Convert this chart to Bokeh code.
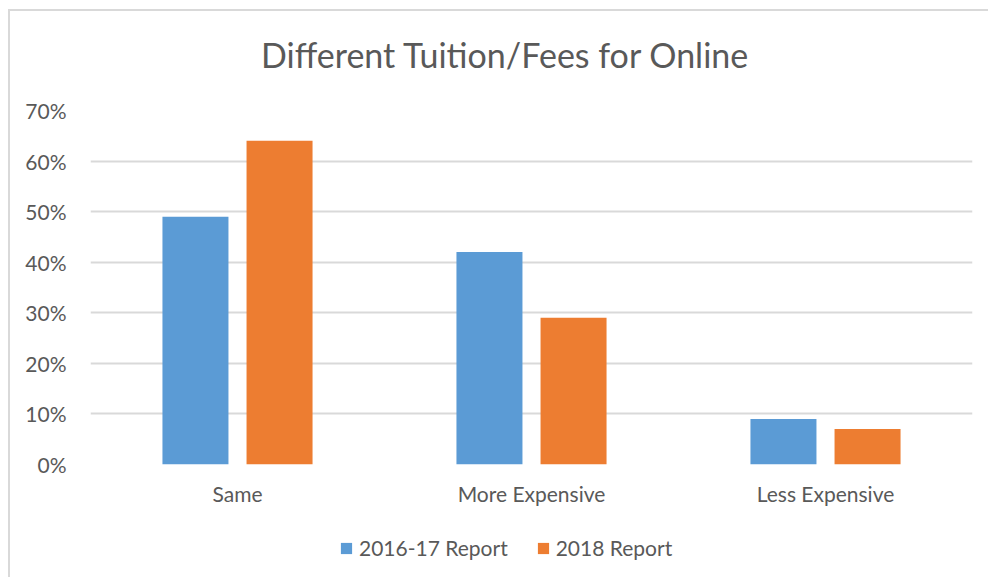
from bokeh.plotting import figure
from bokeh.layouts import column
from bokeh.models import (FactorRange, Range1d, FixedTicker, NumeralTickFormatter,
                          Legend, LegendItem, Label)
from bokeh.transform import dodge
from bokeh.embed import file_html
from bokeh.resources import INLINE

categories = ["Same", "More Expensive", "Less Expensive"]
series_names = ["2016-17 Report", "2018 Report"]
report_2016_17 = [0.49, 0.42, 0.09]
report_2018 = [0.64, 0.29, 0.07]
y_ticks = [0.0, 0.1, 0.2, 0.3, 0.4, 0.5, 0.6, 0.7]
title_text = "Different Tuition/Fees for Online"

BLUE = "#5B9BD5"
ORANGE = "#ED7D31"
TEXT = "#595959"
GRID = "#D9D9D9"
FONT = "Lato"
W = 978

data = dict(cat=categories, a=report_2016_17, b=report_2018)


def bare(height):
    f = figure(width=W, height=height, output_backend="svg", toolbar_location=None,
               x_axis_type=None, y_axis_type=None,
               x_range=FactorRange(*categories), y_range=Range1d(0, 0.7),
               min_border_left=0, min_border_right=0, min_border_top=0,
               min_border_bottom=0)
    f.outline_line_color = None
    f.grid.visible = False
    return f


# title strip
tf = bare(84)
tf.add_layout(Label(x=415, y=41, x_units="screen", y_units="screen",
                    text=title_text, text_align="center",
                    text_baseline="alphabetic", text_font=FONT,
                    text_font_size="34px", text_color=TEXT))

# main chart
p = figure(x_range=FactorRange(*categories), y_range=Range1d(0, 0.7),
           width=W, height=414, output_backend="svg", toolbar_location=None,
           min_border_left=80, min_border_right=16, min_border_top=15,
           min_border_bottom=45)
p.vbar(x=dodge("cat", -0.143, range=p.x_range), top="a", width=0.2245,
       source=data, color=BLUE, line_color=None)
p.vbar(x=dodge("cat", 0.143, range=p.x_range), top="b", width=0.2245,
       source=data, color=ORANGE, line_color=None)

p.outline_line_color = None
p.xgrid.grid_line_color = None
p.ygrid.grid_line_color = GRID
p.ygrid.grid_line_width = 2
p.yaxis.ticker = FixedTicker(ticks=y_ticks)
p.yaxis.formatter = NumeralTickFormatter(format="0%")
for ax in (p.xaxis[0], p.yaxis[0]):
    ax.axis_line_color = None
    ax.major_tick_line_color = None
    ax.minor_tick_line_color = None
    ax.major_label_text_font = FONT
    ax.major_label_text_font_size = "21px"
    ax.major_label_text_color = TEXT
p.yaxis.major_label_standoff = 18
p.xaxis.major_label_standoff = 10

# legend strip
lf = bare(68)
l1 = lf.vbar(x="cat", top="a", width=0.2245, source=data, color=BLUE,
             line_color=None, visible=False)
l2 = lf.vbar(x="cat", top="b", width=0.2245, source=data, color=ORANGE,
             line_color=None, visible=False)
legend = Legend(items=[LegendItem(label=series_names[0], renderers=[l1]),
                       LegendItem(label=series_names[1], renderers=[l2])],
                orientation="horizontal", location=(249, 17),
                padding=0, margin=0, spacing=28,
                glyph_width=14, glyph_height=14, label_standoff=6,
                label_height=20, label_text_font=FONT,
                label_text_font_size="21px", label_text_color=TEXT,
                border_line_color=None, background_fill_alpha=0,
                inactive_fill_alpha=0)
lf.add_layout(legend, "center")

layout = column(tf, p, lf, spacing=0,
                styles={"margin-left": "8px", "margin-top": "9px",
                        "border-left": "2px solid #D9D9D9",
                        "border-top": "2px solid #D9D9D9"})

open("out.html", "w").write(file_html(layout, INLINE))
